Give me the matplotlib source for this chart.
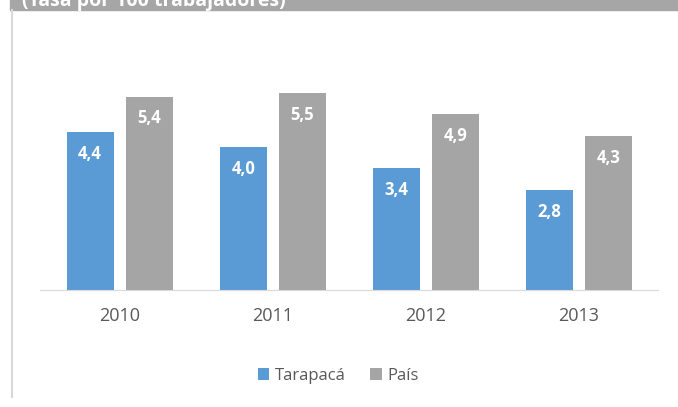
import matplotlib.pyplot as plt
import matplotlib.patches as mpatches
import numpy as np

plt.rcParams['font.family'] = ['Open Sans', 'DejaVu Sans']

anios = ['2010', '2011', '2012', '2013']
tarapaca = [4.4, 4.0, 3.4, 2.8]
pais = [5.4, 5.5, 4.9, 4.3]
etiquetas_tarapaca = ['4,4', '4,0', '3,4', '2,8']
etiquetas_pais = ['5,4', '5,5', '4,9', '4,3']

azul = '#5b9bd5'
gris = '#a5a5a5'


def main():
    fig = plt.figure(figsize=(6.78, 4.07), dpi=100)

    # banda gris superior con el titulo (cortado como en el original)
    fig.patches.append(mpatches.Rectangle((10 / 678, 1 - 10 / 407), 1, 10 / 407,
                                          transform=fig.transFigure, color='#a6a6a6', zorder=0))
    fig.text(22 / 678, 1 - 1 / 407, '(Tasa por 100 trabajadores)', color='white',
             fontsize=14, fontweight='bold', va='center', ha='left')
    fig.lines.append(plt.Line2D([12 / 678, 12 / 678], [10 / 407, 1 - 10 / 407],
                                transform=fig.transFigure, color='#d9d9d9', lw=1.5))

    ax = fig.add_axes([40 / 678, 117 / 407, 618 / 678, 215 / 407])
    x = np.arange(len(anios))
    ancho = 0.306
    desp = 0.193
    b1 = ax.bar(x - desp, tarapaca, ancho, color=azul, label='Tarapacá')
    b2 = ax.bar(x + desp, pais, ancho, color=gris, label='País')

    for barras, textos in [(b1, etiquetas_tarapaca), (b2, etiquetas_pais)]:
        for barra, t in zip(barras, textos):
            ax.text(barra.get_x() + barra.get_width() / 2, barra.get_height() - 0.36, t,
                    ha='center', va='top', color='white', fontsize=12, fontweight='bold')

    ax.set_xlim(-0.52, 3.515)
    ax.set_ylim(0, 6)
    ax.set_xticks(x)
    ax.set_xticklabels(anios, fontsize=13, color='#595959')
    ax.tick_params(axis='x', length=0, pad=12)
    ax.set_yticks([])
    for lado in ['top', 'right', 'left']:
        ax.spines[lado].set_visible(False)
    ax.spines['bottom'].set_color('#d9d9d9')

    fig.legend(handles=[b1, b2], loc='center', bbox_to_anchor=(338 / 678, 1 - 376 / 407),
               ncol=2, frameon=False, fontsize=12, handlelength=0.7, handleheight=0.7,
               handletextpad=0.3, columnspacing=1.5, labelcolor='#595959')

    fig.savefig('out.png', dpi=100)


if __name__ == '__main__':
    main()
